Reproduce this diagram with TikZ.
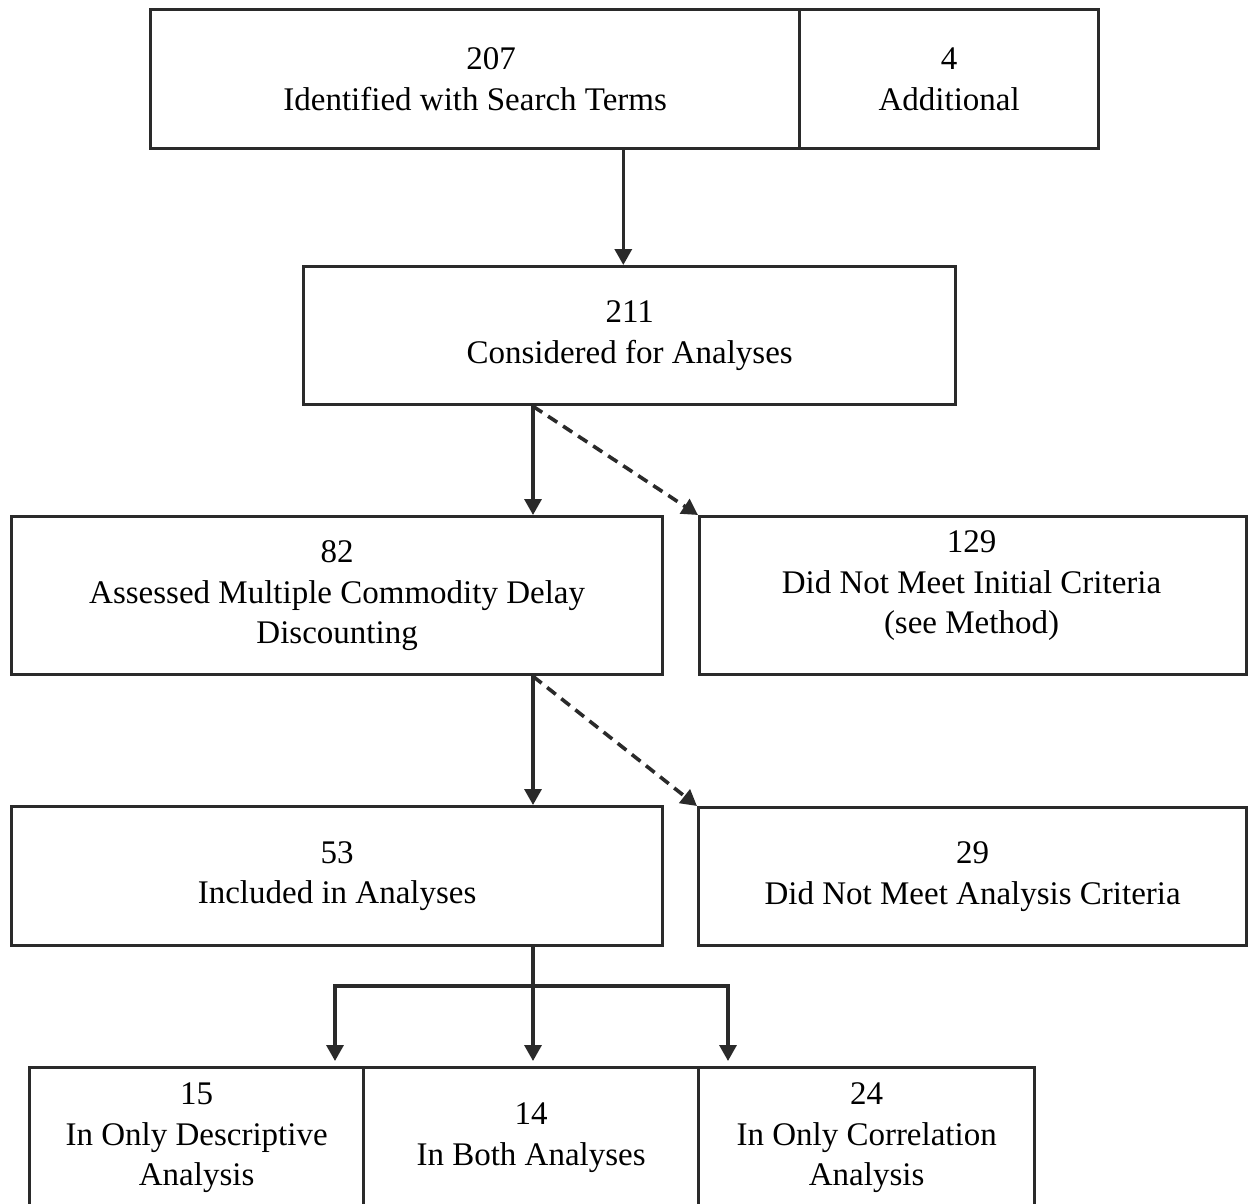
\documentclass[tikz,border=0pt]{standalone}
\usepackage{fontspec}
\setmainfont{Liberation Serif}
\usetikzlibrary{arrows.meta,calc}
\definecolor{ln}{HTML}{2A2A2A}
\begin{document}
\begin{tikzpicture}[x=1pt,y=-1pt,
  font=\fontsize{33}{40.5}\selectfont,
  box/.style={draw=ln, line width=3.3pt, inner sep=0pt, align=center, anchor=north west},
  conn/.style={draw=ln, line width=3.3pt},
  arr/.style={conn, -{Triangle[length=16pt,width=17pt]}},
  dsh/.style={arr, line width=3.6pt, dash pattern=on 11pt off 7pt}]
\clip (0,0) rectangle (1255,1203);
% top row
\node[box, minimum width=649pt, minimum height=139pt] (a1) at (149,8) {\hspace*{32pt}207\\Identified with Search Terms};
\node[box, minimum width=299pt, minimum height=139pt] (a2) at (798,8) {4\\Additional};
% second
\node[box, minimum width=652pt, minimum height=138pt] (b) at (302,265) {211\\Considered for Analyses};
% third row
\node[box, minimum width=651pt, minimum height=158pt] (c) at (10,515) {82\\Assessed Multiple Commodity Delay\\Discounting};
\node[box, minimum width=547pt, minimum height=158pt] (e) at (698,515) {};
\node[align=center] (et) at (971.5,586) {129\\Did Not Meet Initial Criteria\\(see Method)};
% fourth row
\node[box, minimum width=651pt, minimum height=139pt] (f) at (10,805) {53\\Included in Analyses};
\node[box, minimum width=548pt, minimum height=138pt] (g) at (697,806) {29\\Did Not Meet Analysis Criteria};
% bottom row (cut off at bottom)
\node[box, minimum width=334pt, minimum height=140pt] (d1) at (28,1066) {15\\In Only Descriptive\\Analysis};
\node[box, minimum width=335pt, minimum height=140pt] (d2) at (362,1066) {14\\In Both Analyses};
\node[box, minimum width=336pt, minimum height=140pt] (d3) at (697,1066) {24\\In Only Correlation\\Analysis};
% connectors
\coordinate (p1) at ([xshift=-178pt]a1.south east);
\coordinate (p2) at ([xshift=231pt]b.south west);
\coordinate (p3) at (p2 |- c.south);
\coordinate (p4) at (p2 |- f.south);
\draw[arr] (p1) -- (p1 |- b.north);
\draw[arr] (p2) -- (p2 |- c.north);
\draw[dsh] (p2) -- (e.north west);
\draw[arr] (p3) -- (p3 |- f.north);
\draw[dsh] (p3) -- (g.north west);
\coordinate (hl) at (335,986);
\coordinate (hr) at (728,986);
\draw[arr, shorten >=5pt] (p4) -- (p4 |- d2.north);
\draw[conn, line cap=rect] (hl) -- (hr);
\draw[arr, shorten >=5pt] (hl) -- (hl |- d1.north);
\draw[arr, shorten >=5pt] (hr) -- (hr |- d3.north);
\end{tikzpicture}
\end{document}
